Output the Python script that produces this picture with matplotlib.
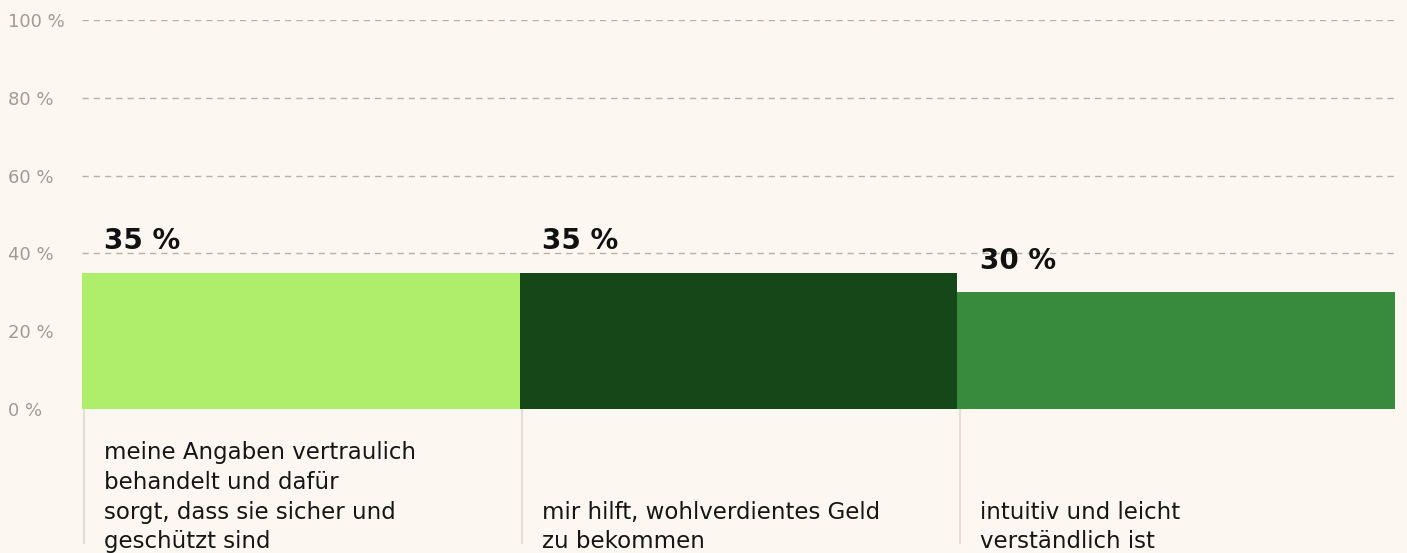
import numpy as np
import matplotlib as mpl
mpl.use('Agg')
import matplotlib.pyplot as plt

# values
categories = ['meine Angaben vertraulich\nbehandelt und dafür\nsorgt, dass sie sicher und\ngeschützt sind',
              'mir hilft, wohlverdientes Geld\nzu bekommen',
              'intuitiv und leicht\nverständlich ist']
values = [35, 35, 30]
colors = ['#aeee6a', '#154718', '#388b3c']
yticks = [0, 20, 40, 60, 80, 100]
ytick_labels = ['%d %%' % v for v in yticks]

bg = '#fcf7f1'
grey = '#a39b93'

fig = plt.figure(figsize=(14.07, 5.53), dpi=100, facecolor=bg)
ax = fig.add_axes([82 / 1407, (553 - 409) / 553, (1395 - 82) / 1407, 389 / 553])
ax.set_facecolor(bg)

x = np.arange(len(values))
ax.bar(x, values, width=1.0, align='edge', color=colors, zorder=3)

ax.set_xlim(0, len(values))
ax.set_ylim(0, 100)

# grid
ax.set_yticks(yticks)
ax.set_yticklabels(ytick_labels, ha='left', color=grey, fontsize=13)
ax.tick_params(axis='y', length=0, pad=53)
ax.set_xticks([])
ax.grid(axis='y', color='#b8b1a9', linewidth=1, linestyle=(0, (4.5, 3.6)), zorder=0)
for s in ax.spines.values():
    s.set_visible(False)

for i, (v, cat) in enumerate(zip(values, categories)):
    # value label
    ax.annotate('%d %%' % v, xy=(i, v), xytext=(16, 17), textcoords='offset points',
                ha='left', va='baseline', fontsize=20, fontweight='bold', color='#111111')
    # separator line below the bar
    ax.plot([i + 0.005, i + 0.005], [0, -34.5], color='#e6ded5', linewidth=1.5,
            clip_on=False, zorder=1)
    # category label
    ax.annotate(cat, xy=(i, 0), xytext=(16, -104), textcoords='offset points',
                ha='left', va='bottom', fontsize=16.5, color='#161616', linespacing=1.37,
                annotation_clip=False)

fig.savefig('out.png', dpi=100, facecolor=bg)
